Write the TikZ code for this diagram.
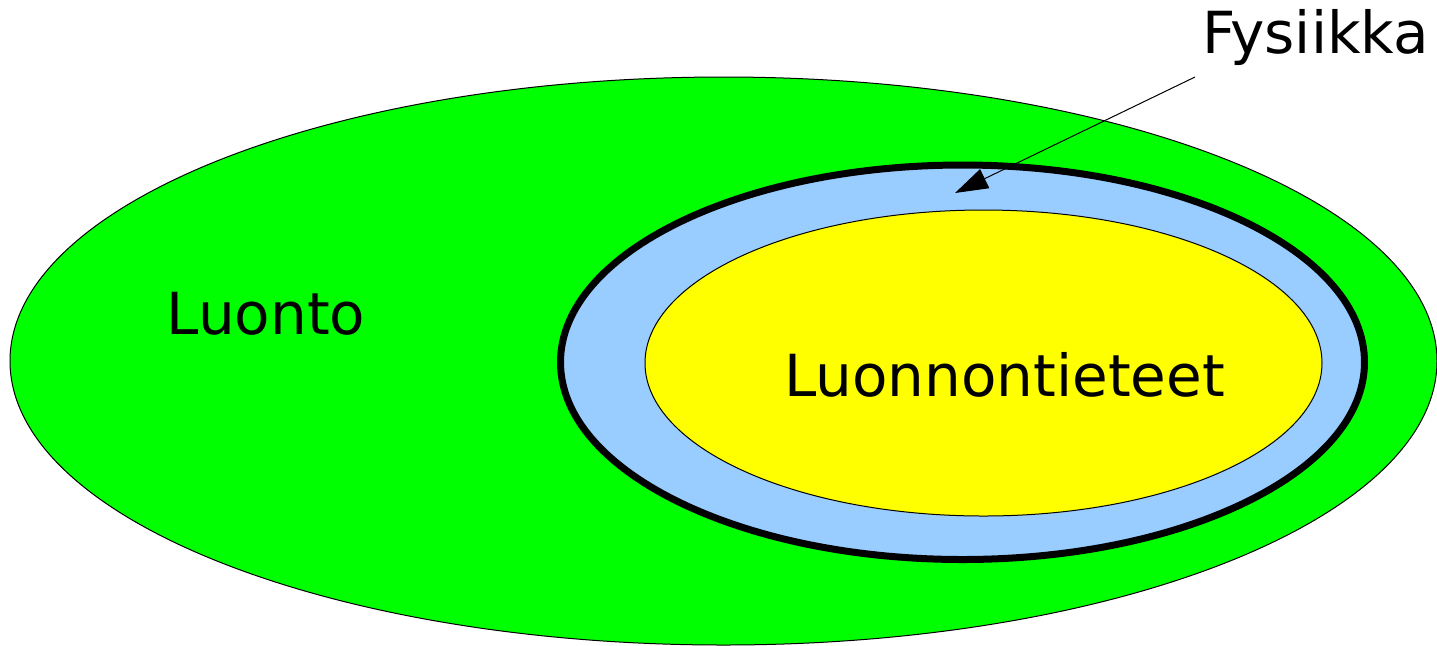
\documentclass[tikz,border=0pt]{standalone}
\usepackage{fontspec}
\setmainfont{DejaVu Sans}
\usetikzlibrary{shapes.geometric, arrows.meta}
\definecolor{naturegreen}{HTML}{00FF00}
\definecolor{physicsblue}{HTML}{99CCFF}
\definecolor{scienceyellow}{HTML}{FFFF00}

\begin{document}
\begin{tikzpicture}[
        x=0.5pt, y=-0.5pt,
        area/.style={ellipse, draw=black, inner sep=0pt, outer sep=0pt},
        areatext/.style={font=\fontsize{29}{35}\selectfont, anchor=base, inner sep=0pt},
        pointer/.style={-{Triangle[length=16.5pt, width=10.5pt]}, line width=0.5pt}
    ]
    \useasboundingbox (0,0) rectangle (1437,645);

    % nested areas
    \node[area, fill=naturegreen, line width=0.5pt, minimum width=713.5pt, minimum height=284pt] (luonto) at (723.5,361) {};
    \node[area, fill=physicsblue, line width=3.5pt, minimum width=402pt, minimum height=197.25pt] (fysiikka) at (962.5,362.25) {};
    \node[area, fill=scienceyellow, line width=0.5pt, minimum width=338.5pt, minimum height=153pt] (tieteet) at (983.5,363) {};

    % texts
    \node[areatext] (luontotext) at (266,334) {Luonto};
    \node[areatext] (tieteettext) at (1004.5,396) {Luonnontieteet};
    \node[areatext] (fystext) at (1315.5,53) {Fysiikka};

    % pointer to the physics band
    \coordinate (fystail) at (1195,77);
    \coordinate (fystip) at (955,193);
    \draw[pointer] (fystail) -- (fystip);
\end{tikzpicture}
\end{document}
